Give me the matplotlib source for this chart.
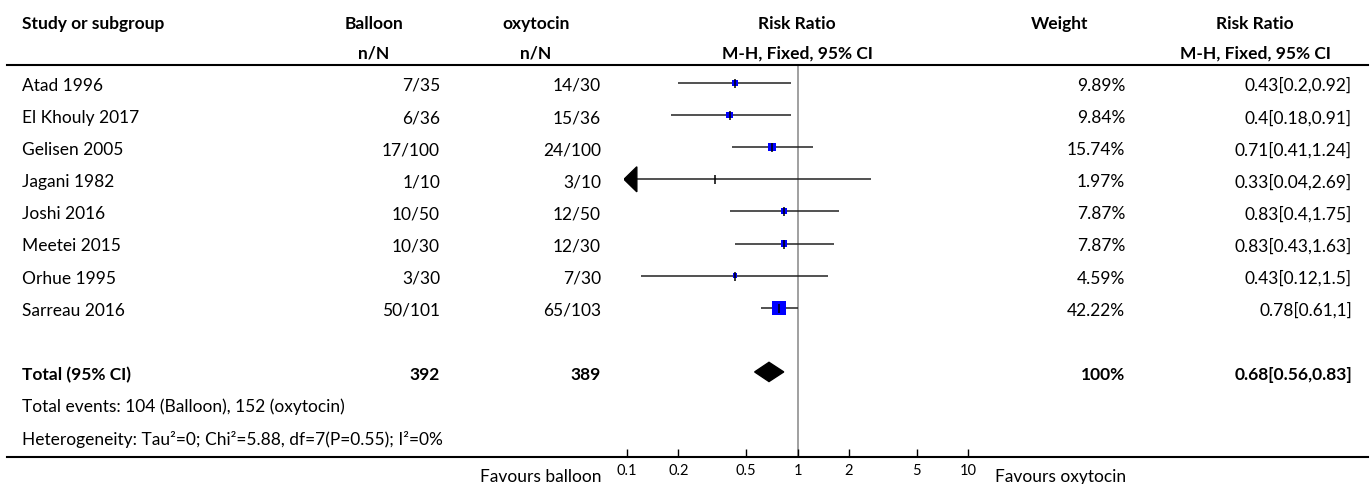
import numpy as np
import matplotlib.pyplot as plt
from matplotlib.lines import Line2D
from matplotlib.patches import Polygon
from matplotlib.transforms import blended_transform_factory

plt.rcParams['font.family'] = ['Lato', 'DejaVu Sans']

# study data
studies = ["Atad 1996", "El Khouly 2017", "Gelisen 2005", "Jagani 1982",
           "Joshi 2016", "Meetei 2015", "Orhue 1995", "Sarreau 2016"]
balloon = ["7/35", "6/36", "17/100", "1/10", "10/50", "10/30", "3/30", "50/101"]
oxytocin = ["14/30", "15/36", "24/100", "3/10", "12/50", "12/30", "7/30", "65/103"]
rr = [0.43, 0.4, 0.71, 0.33, 0.83, 0.83, 0.43, 0.78]
ci_lo = [0.2, 0.18, 0.41, 0.04, 0.4, 0.43, 0.12, 0.61]
ci_hi = [0.92, 0.91, 1.24, 2.69, 1.75, 1.63, 1.5, 1]
weights = [9.89, 9.84, 15.74, 1.97, 7.87, 7.87, 4.59, 42.22]
rr_text = ["0.43[0.2,0.92]", "0.4[0.18,0.91]", "0.71[0.41,1.24]", "0.33[0.04,2.69]",
           "0.83[0.4,1.75]", "0.83[0.43,1.63]", "0.43[0.12,1.5]", "0.78[0.61,1]"]

# pooled result
total_n = ["392", "389"]
total_rr, total_lo, total_hi = 0.68, 0.56, 0.83
total_text = "0.68[0.56,0.83]"
events_text = "Total events: 104 (Balloon), 152 (oxytocin)"
het_text = "Heterogeneity: Tau\u00b2=0; Chi\u00b2=5.88, df=7(P=0.55); I\u00b2=0%"

tick_vals = [0.1, 0.2, 0.5, 1, 2, 5, 10]
tick_labels = ["0.1", "0.2", "0.5", "1", "2", "5", "10"]

W, H = 1370, 485
fig = plt.figure(figsize=(W / 100, H / 100), dpi=100)
ax = fig.add_axes([624 / W, 1 - 458 / H, 347 / W, 392 / H])
ax.set_xscale('log')
ax.set_xlim(0.096, 10.4)
ax.set_ylim(11.65, -0.56)
for s in ax.spines.values():
    s.set_visible(False)
ax.set_yticks([])
ax.set_xticks(tick_vals)
ax.set_xticklabels(tick_labels)
ax.minorticks_off()
ax.tick_params(axis='x', direction='in', length=6, width=1, pad=4.5, labelsize=10.5)

ax.axvline(1, color='#999999', lw=1.3, zorder=1)

rows = np.arange(len(studies))
xmin = ax.get_xlim()[0]
lo_draw = np.maximum(ci_lo, xmin)
ax.hlines(rows, lo_draw, ci_hi, color='#222222', lw=1.1, zorder=2)

sides = 14 * np.sqrt(np.array(weights) / max(weights)) * 0.72
sides[sides < 3] = 0
ax.scatter(rr, rows, marker='s', s=sides ** 2, color='#0000ff', lw=0, zorder=3)
ax.scatter(rr, rows, marker='|', s=(9 * 0.72) ** 2, color='black', lw=1.1, zorder=4)

# arrows for intervals that run past the axis
arr_t = blended_transform_factory(ax.transAxes, ax.transData)
for r, lo in zip(rows, ci_lo):
    if lo < xmin:
        ax.add_patch(Polygon([(0, r), (0.037, r - 0.39), (0.037, r + 0.39)],
                             closed=True, color='black', transform=arr_t, zorder=4))

# pooled diamond
trow = 9
ax.add_patch(Polygon([(total_lo, trow), (total_rr, trow - 0.3),
                      (total_hi, trow), (total_rr, trow + 0.3)],
                     closed=True, color='black', zorder=4))

# table text
tt = blended_transform_factory(fig.transFigure, ax.transData)
fs = 12.5
dy = 0.06  # nudge text down a touch
def col(x):
    return x / W

hdr1, hdr2 = -1.93 + dy, -1.0 + dy
bold = dict(fontsize=fs, fontweight='bold', transform=tt, va='center')
fig.text(col(22), hdr1, "Study or subgroup", ha='left', **bold)
fig.text(col(374), hdr1, "Balloon", ha='center', **bold)
fig.text(col(374), hdr2, "n/N", ha='center', **bold)
fig.text(col(536), hdr1, "oxytocin", ha='center', **bold)
fig.text(col(536), hdr2, "n/N", ha='center', **bold)
fig.text(col(797), hdr1, "Risk Ratio", ha='center', **bold)
fig.text(col(797), hdr2, "M-H, Fixed, 95% CI", ha='center', **bold)
fig.text(col(1060), hdr1, "Weight", ha='center', **bold)
fig.text(col(1255), hdr1, "Risk Ratio", ha='center', **bold)
fig.text(col(1255), hdr2, "M-H, Fixed, 95% CI", ha='center', **bold)

norm = dict(fontsize=fs, transform=tt, va='center')
for r in rows:
    fig.text(col(22), r + dy, studies[r], ha='left', **norm)
    fig.text(col(440), r + dy, balloon[r], ha='right', **norm)
    fig.text(col(601), r + dy, oxytocin[r], ha='right', **norm)
    fig.text(col(1125), r + dy, f"{weights[r]:.2f}%", ha='right', **norm)
    fig.text(col(1352), r + dy, rr_text[r], ha='right', **norm)

fig.text(col(22), trow + dy, "Total (95% CI)", ha='left', **bold)
fig.text(col(440), trow + dy, total_n[0], ha='right', **bold)
fig.text(col(601), trow + dy, total_n[1], ha='right', **bold)
fig.text(col(1125), trow + dy, "100%", ha='right', **bold)
fig.text(col(1352), trow + dy, total_text, ha='right', **bold)
fig.text(col(22), 10 + dy, events_text, ha='left', **norm)
fig.text(col(22), 11 + dy, het_text, ha='left', **norm)

# rules across the table
fig.add_artist(Line2D([7 / W, 1368 / W], [1 - 66 / H] * 2, color='black', lw=1.5))
fig.add_artist(Line2D([7 / W, 1368 / W], [1 - 458 / H] * 2, color='black', lw=1.5))

fig.text(col(601), 1 - 477 / H, "Favours balloon", ha='right', va='center', fontsize=fs)
fig.text(col(995), 1 - 477 / H, "Favours oxytocin", ha='left', va='center', fontsize=fs)

fig.savefig('out.png', dpi=100)
